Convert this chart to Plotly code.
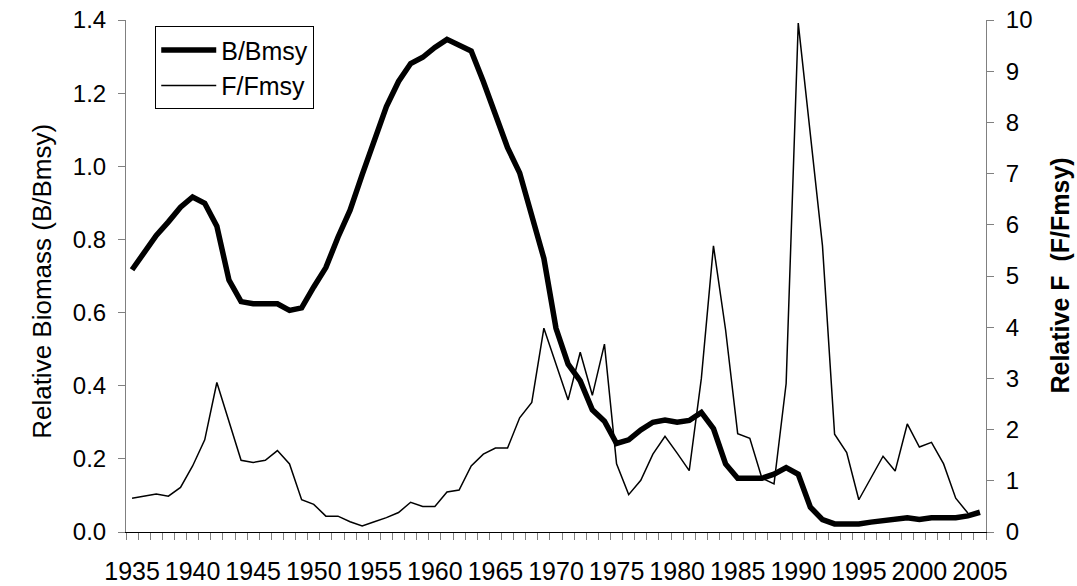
import plotly.graph_objects as go

# Years of the assessment series
years = list(range(1935, 2006))

# Relative biomass B/Bmsy, 1935-2005
b_bmsy = [
    0.717, 0.767, 0.811, 0.848, 0.888, 0.916, 0.899, 0.836, 0.689, 0.630,
    0.624, 0.624, 0.624, 0.606, 0.613, 0.670, 0.723, 0.806, 0.880, 0.977,
    1.075, 1.163, 1.232, 1.281, 1.298, 1.325, 1.347, 1.332, 1.315, 1.232,
    1.139, 1.051, 0.982, 0.870, 0.748, 0.557, 0.459, 0.413, 0.334, 0.303,
    0.242, 0.252, 0.279, 0.300, 0.306, 0.300, 0.305, 0.327, 0.283, 0.186,
    0.147, 0.147, 0.147, 0.158, 0.176, 0.158, 0.068, 0.034, 0.022, 0.022,
    0.022, 0.027, 0.032, 0.034, 0.039, 0.034, 0.039, 0.039, 0.039, 0.044,
    0.054,
]

# Relative fishing mortality F/Fmsy, 1935-2004
f_fmsy = [
    0.66, 0.70, 0.74, 0.70, 0.87, 1.29, 1.80, 2.92, 2.16, 1.40,
    1.36, 1.40, 1.59, 1.33, 0.63, 0.54, 0.31, 0.31, 0.20, 0.12,
    0.20, 0.28, 0.38, 0.58, 0.50, 0.50, 0.78, 0.82, 1.29, 1.52,
    1.64, 1.64, 2.23, 2.53, 3.98, 3.28, 2.58, 3.51, 2.67, 3.67,
    1.33, 0.73, 1.01, 1.52, 1.87, 1.54, 1.20, 3.00, 5.59, 3.95,
    1.92, 1.83, 1.05, 0.94, 2.90, 9.94, 7.76, 5.59, 1.91, 1.55,
    0.63, 1.06, 1.48, 1.19, 2.11, 1.66, 1.75, 1.33, 0.66, 0.37,
]

label_years = list(range(1935, 2006, 5))
bounds = [y - 0.5 for y in range(1935, 2007)]

FONT = "Arial, Liberation Sans, sans-serif"
GREY = "#808080"

fig = go.Figure()
fig.add_trace(go.Scatter(
    x=years, y=b_bmsy, name="B/Bmsy", mode="lines",
    line=dict(color="black", width=5.5), yaxis="y",
    legendgroup="b",
))
fig.add_trace(go.Scatter(
    x=years[:len(f_fmsy)], y=f_fmsy, name="F/Fmsy", mode="lines",
    line=dict(color="black", width=1.5), yaxis="y2",
    legendgroup="f",
))

fig.update_layout(
    width=1077, height=586,
    margin=dict(l=126, r=91, t=20, b=54),
    paper_bgcolor="white", plot_bgcolor="white",
    font=dict(family=FONT, color="black", size=24),
    showlegend=True,
    legend=dict(
        x=0.034, y=0.988, xanchor="left", yanchor="top",
        bgcolor="white", bordercolor="black", borderwidth=1,
        font=dict(size=25), itemwidth=55, tracegroupgap=0,
    ),
    xaxis=dict(
        range=[1934.5, 2005.5], showgrid=False, zeroline=False,
        tickvals=label_years, ticks="", tickfont=dict(size=25),
        ticklabelstandoff=17, automargin=False,
        showline=True, linecolor="black", linewidth=1,
        minor=dict(tickvals=bounds, ticks="outside", ticklen=7,
                   tickcolor=GREY, tickwidth=1),
    ),
    yaxis=dict(
        range=[0, 1.4], dtick=0.2, tickformat=".1f", showgrid=False,
        zeroline=False, showline=True, linecolor=GREY, linewidth=1,
        ticks="outside", ticklen=7, tickcolor=GREY, automargin=False,
        tickfont=dict(size=24), ticklabelstandoff=7,
    ),
    yaxis2=dict(
        range=[0, 10], dtick=1, overlaying="y", side="right",
        showgrid=False, zeroline=False, showline=True, linecolor=GREY,
        linewidth=1, ticks="outside", ticklen=7, tickcolor=GREY,
        automargin=False, tickfont=dict(size=24), ticklabelstandoff=7,
    ),
    yaxis3=dict(
        range=[0, 10], dtick=1, overlaying="y", side="right", anchor="x",
        showgrid=False, zeroline=False, showline=False, automargin=False,
        ticks="inside", ticklen=6, tickcolor=GREY, showticklabels=False,
    ),
    annotations=[
        dict(text="Relative Biomass (B/Bmsy)", textangle=-90,
             xref="paper", yref="paper", x=-0.098, y=0.49,
             xanchor="center", yanchor="middle", showarrow=False,
             font=dict(size=26)),
        dict(text="<b>Relative F  (F/Fmsy)</b>", textangle=-90,
             xref="paper", yref="paper", x=1.0855, y=0.5,
             xanchor="center", yanchor="middle", showarrow=False,
             font=dict(size=25)),
    ],
)

fig.write_html("out.html")
